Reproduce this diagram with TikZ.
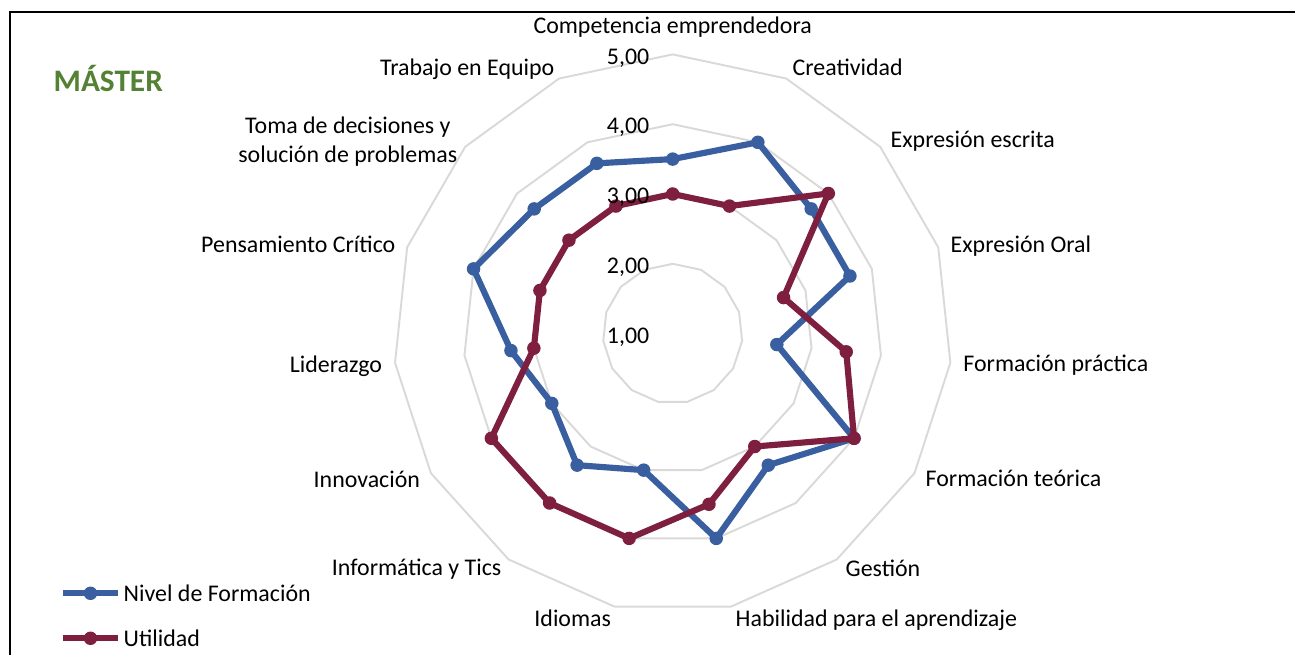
\documentclass[tikz,border=0pt]{standalone}
\usepackage{fontspec}
\setmainfont{Carlito}
\usepackage{xcolor}
\usepackage{tikz}
\usetikzlibrary{calc, positioning}

\definecolor{nivel}{RGB}{58,95,160}
\definecolor{utilidad}{RGB}{127,31,63}
\definecolor{verde}{RGB}{84,130,53}
\definecolor{rejilla}{RGB}{217,217,217}

\begin{document}
\begin{tikzpicture}[
  lbl/.style = {inner sep=0pt, font=\fontsize{6.8}{8.25}\selectfont},
  eje/.style = {lbl, text height=1.55mm, text depth=0pt},
  ring/.style = {draw=rejilla, line width=0.55pt},
  serie/.style = {line width=1.75pt, line join=round},
  dot/.style = {circle, inner sep=0pt, minimum size=1.35mm}]
 \useasboundingbox (0,0) rectangle (12.95,6.55);
 \draw[line width=0.6pt] (0.10,0) -- (0.10,6.433) -- (12.95,6.433);

 \coordinate (c) at (6.727,3.214);
 % rings 2,00 ... 5,00
 \foreach \r in {1,...,4}
  \draw[ring] ($(c)+(90:{\r*0.698})$)
   \foreach \k in {1,...,14} { -- ($(c)+({90-24*\k}:{\r*0.698})$) } -- cycle;

 \node[lbl, font=\fontsize{8.9}{10}\selectfont\bfseries, text=verde,
       text height=2mm, text depth=0pt, anchor=west] (titulo) at (0.53,5.73) {MÁSTER};

 \node[eje] (a0) at (6.727,6.29) {Competencia emprendedora};
 \node[eje, anchor=west] (a1) at (7.92,5.87) {Creatividad};
 \node[eje, anchor=west] (a2) at (8.90,5.15) {Expresión escrita};
 \node[eje, anchor=west] (a3) at (9.50,4.10) {Expresión Oral};
 \node[eje, anchor=west] (a4) at (9.627,2.91) {Formación práctica};
 \node[eje, anchor=west] (a5) at (9.25,1.76) {Formación teórica};
 \node[eje, anchor=west] (a6) at (8.45,0.86) {Gestión};
 \node[eje, anchor=west] (a7) at (7.35,0.36) {Habilidad para el aprendizaje};
 \node[eje, anchor=east] (a8) at (6.117,0.36) {Idiomas};
 \node[eje, anchor=east] (a9) at (5.02,0.87) {Informática y Tics};
 \node[eje, anchor=east] (a10) at (4.207,1.75) {Innovación};
 \node[eje, anchor=east] (a11) at (3.827,2.90) {Liderazgo};
 \node[eje, anchor=east] (a12) at (3.96,4.10) {Pensamiento Crítico};
 \node[lbl, align=center, anchor=east] (a13) at (4.58,5.13)
      {Toma de decisiones y\\solución de problemas};
 \node[eje, anchor=east] (a14) at (5.55,5.87) {Trabajo en Equipo};

 % Nivel de Formacion
 \foreach \v [count=\k from 0] in {3.5,4,3.67,3.67,2.5,4,3.33,4,3,3.33,3,3.33,4,3.67,3.67}
  \coordinate (n\k) at ($(c)+({90-24*\k}:{(\v-1)*0.698})$);
 \draw[serie, nivel] (n0) \foreach \k in {1,...,14} { -- (n\k) } -- cycle;
 \foreach \k in {0,...,14}
  \node[dot, fill=nivel] (nd\k) at (n\k) {};

 % Utilidad
 \foreach \v [count=\k from 0] in {3,3,4,2.67,3.5,4,3,3.5,4,4,4,3,3,3,3}
  \coordinate (u\k) at ($(c)+({90-24*\k}:{(\v-1)*0.698})$);
 \draw[serie, utilidad] (u0) \foreach \k in {1,...,14} { -- (u\k) } -- cycle;
 \foreach \k in {0,...,14}
  \node[dot, fill=utilidad] (ud\k) at (u\k) {};

 \node[eje, anchor=east] (v1) at (6.50,3.19) {1,00};
 \node[eje, anchor=east] (v2) at (6.50,3.89) {2,00};
 \node[eje, anchor=east] (v3) at (6.50,4.59) {3,00};
 \node[eje, anchor=east] (v4) at (6.50,5.29) {4,00};
 \node[eje, anchor=east] (v5) at (6.50,5.98) {5,00};

 % legend
 \coordinate (l1a) at (0.63,0.617);
 \coordinate (l1b) at (1.18,0.617);
 \draw[serie, nivel] (l1a) -- (l1b);
 \node[dot, fill=nivel] (ld1) at ($(l1a)!0.5!(l1b)$) {};
 \node[eje, right=0.05 of l1b] (t1) {Nivel de Formación};
 \coordinate (l2a) at (0.63,0.167);
 \coordinate (l2b) at (1.18,0.167);
 \draw[serie, utilidad] (l2a) -- (l2b);
 \node[dot, fill=utilidad] (ld2) at ($(l2a)!0.5!(l2b)$) {};
 \node[eje, right=0.05 of l2b] (t2) {Utilidad};
\end{tikzpicture}
\end{document}
